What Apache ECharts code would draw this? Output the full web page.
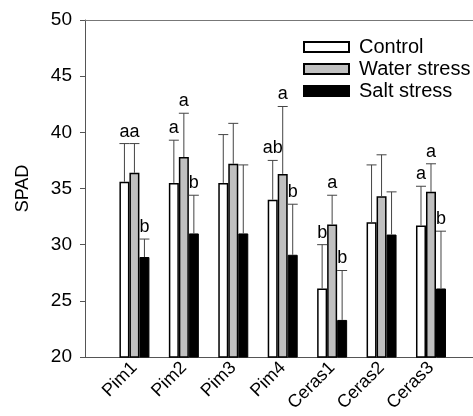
<!DOCTYPE html>
<html>
<head>
<meta charset="utf-8">
<script src="https://cdn.jsdelivr.net/npm/echarts@6/dist/echarts.min.js"></script>
</head>
<body style="margin:0">
<div id="main" style="width:473px;height:416px;"></div>
<script>
// data
var categories = ['Pim1', 'Pim2', 'Pim3', 'Pim4', 'Ceras1', 'Ceras2', 'Ceras3'];
var controlMean = [35.6, 35.5, 35.5, 34.0, 26.1, 32.0, 31.7];
var controlUpper = [39.0, 39.3, 39.8, 37.5, 30.0, 37.1, 35.2];
var controlLetters = ['a', 'a', '', 'ab', 'b', '', 'a'];
var waterMean = [36.4, 37.8, 37.2, 36.3, 31.8, 34.3, 34.7];
var waterUpper = [39.0, 41.7, 40.8, 42.3, 34.4, 38.0, 37.2];
var waterLetters = ['a', 'a', '', 'a', 'a', '', 'a'];
var saltMean = [28.9, 31.0, 31.0, 29.1, 23.3, 30.9, 26.1];
var saltUpper = [30.5, 34.4, 37.1, 33.6, 27.7, 34.7, 31.2];
var saltLetters = ['b', 'b', '', 'b', 'b', '', 'b'];

// groups sit at x = 1..7 on a value axis, the frame is cut off on the right
function pts(a) { return a.map(function (v, i) { return [i + 1, v]; }); }

function errSeries(mean, upper, letters, off) {
    var data = mean.map(function (m, i) { return [i + 1, m, upper[i]]; });
    return {
        type: 'custom',
        data: data,
        z: 5,
        renderItem: function (params, api) {
            var i = api.value(0);
            var p0 = api.coord([i, api.value(1)]);
            var p1 = api.coord([i, api.value(2)]);
            var x = p0[0] + off;
            var children = [
                { type: 'line', shape: { x1: x, y1: p0[1], x2: x, y2: p1[1] }, style: { stroke: '#444', lineWidth: 1 } },
                { type: 'line', shape: { x1: x - 5, y1: p1[1], x2: x + 5, y2: p1[1] }, style: { stroke: '#444', lineWidth: 1 } }
            ];
            var t = letters[params.dataIndex];
            if (t) {
                children.push({
                    type: 'text',
                    style: { text: t, x: x, y: p1[1] - 3, align: 'center', verticalAlign: 'bottom', fontSize: 18, fontFamily: 'Liberation Sans, Arial', fill: '#000' }
                });
            }
            return { type: 'group', children: children };
        }
    };
}

var myChart = echarts.init(document.getElementById('main'));
var font = 'Liberation Sans, Arial';
var option = {
    animation: false,
    grid: { left: 85, top: 20, bottom: 59, right: 0 },
    legend: {
        data: ['Control', 'Water stress', 'Salt stress'],
        orient: 'vertical',
        left: 298,
        top: 32,
        icon: 'rect',
        itemWidth: 45,
        itemHeight: 10,
        itemGap: 2,
        textStyle: { fontSize: 20, fontFamily: font, color: '#000', padding: [0, 0, 0, 5] }
    },
    xAxis: [{
        type: 'value',
        min: 0,
        max: 7.85,
        interval: 1,
        splitLine: { show: false },
        axisLine: { lineStyle: { color: '#555', width: 1 } },
        axisTick: { show: false },
        axisLabel: {
            rotate: 45, margin: 8, fontSize: 18, fontFamily: font, color: '#000',
            showMinLabel: false, showMaxLabel: false,
            formatter: function (v) { return categories[v - 1] || ''; }
        }
    }, {
        type: 'value',
        position: 'top',
        min: 0,
        max: 7.85,
        splitLine: { show: false },
        axisLine: { show: true, lineStyle: { color: '#777', width: 1 } },
        axisTick: { show: false },
        axisLabel: { show: false }
    }],
    yAxis: {
        type: 'value',
        min: 20,
        max: 50,
        interval: 5,
        name: 'SPAD',
        nameLocation: 'middle',
        nameGap: 53,
        nameTextStyle: { fontSize: 18, fontFamily: font, color: '#000' },
        axisLine: { show: true, lineStyle: { color: '#555', width: 1 } },
        axisTick: { show: true, length: 5, lineStyle: { color: '#555' } },
        axisLabel: { margin: 13, fontSize: 19, fontFamily: font, color: '#000' },
        splitLine: { show: false }
    },
    series: [{
        name: 'Control',
        type: 'bar',
        data: pts(controlMean),
        barWidth: 10,
        barGap: '0%',
        itemStyle: { color: '#fff', borderColor: '#000', borderWidth: 1.5 }
    }, {
        name: 'Water stress',
        type: 'bar',
        data: pts(waterMean),
        barWidth: 10,
        barGap: '0%',
        itemStyle: { color: '#c0c0c0', borderColor: '#000', borderWidth: 1.5 }
    }, {
        name: 'Salt stress',
        type: 'bar',
        data: pts(saltMean),
        barWidth: 10,
        barGap: '0%',
        itemStyle: { color: '#000', borderColor: '#000', borderWidth: 1 }
    },
    errSeries(controlMean, controlUpper, controlLetters, -10),
    errSeries(waterMean, waterUpper, waterLetters, 0),
    errSeries(saltMean, saltUpper, saltLetters, 10)]
};
myChart.setOption(option);
</script>
</body>
</html>
